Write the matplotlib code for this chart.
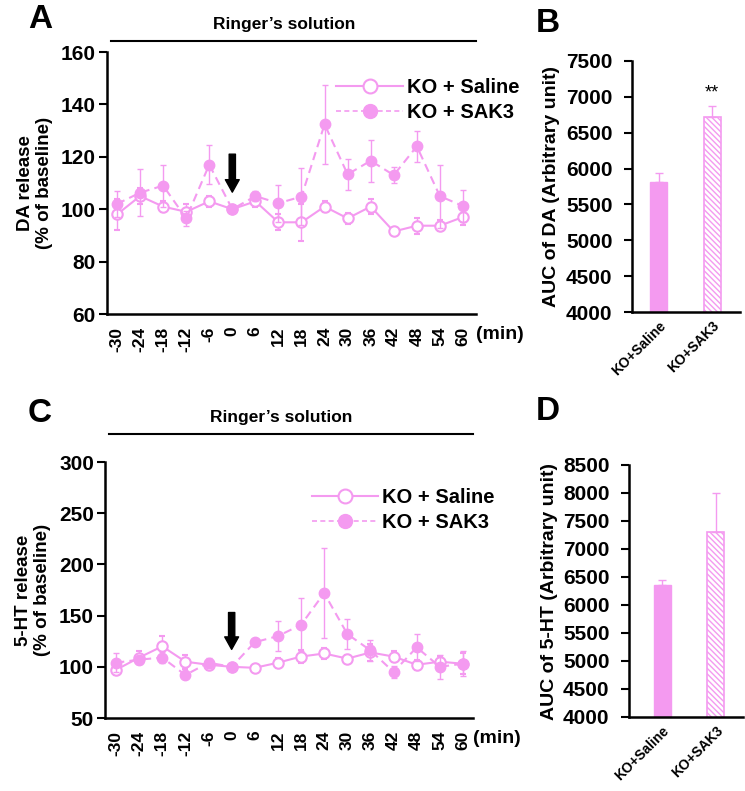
import numpy as np
import matplotlib
matplotlib.use("Agg")
import matplotlib.pyplot as plt
from matplotlib.lines import Line2D

plt.rcParams['font.family'] = ['Liberation Sans', 'DejaVu Sans']
plt.rcParams['font.weight'] = 'bold'
plt.rcParams['axes.labelweight'] = 'bold'

pink = '#F49AF0'

# time points (min)
minutes = [-30, -24, -18, -12, -6, 0, 6, 12, 18, 24, 30, 36, 42, 48, 54, 60]

# panel A: DA release (% of baseline)
da_saline = [98, 105, 101, 99, 103, 100, 103, 95, 95, 101, 96.5, 101, 91.5, 93.7, 93.7, 97]
da_saline_err = [6, 3, 2, 3, 2, 0, 2, 3, 7, 2, 2, 3, 1, 3, 2, 3]
da_sak3 = [102, 106.3, 109, 96.5, 117, 100, 105, 102.3, 104.8, 132.4, 113.3, 118.5, 113, 124, 105, 101.2]
da_sak3_err = [5, 9, 8, 3, 7.5, 0, 2, 7, 11, 15, 6, 8, 3, 6, 12, 6]

# panel C: 5-HT release (% of baseline)
ht_saline = [97, 109, 120, 105, 102, 100, 99, 104, 110, 113, 108, 114, 110, 102, 105, 103]
ht_saline_err = [5, 6, 10, 7, 5, 0, 2, 5, 6, 5, 4, 8, 5, 5, 6, 10]
ht_sak3 = [104, 107, 109, 92, 104, 100, 124, 130, 141, 172, 132, 116, 95, 119, 100, 103]
ht_sak3_err = [9, 4, 5, 3, 5, 0, 2, 15, 26, 44, 15, 10, 6, 13, 12, 12]

# AUC bars
groups = ['KO+Saline', 'KO+SAK3']
auc_da = [5819, 6724]
auc_da_err = [120, 150]
auc_ht = [6354, 7308]
auc_ht_err = [100, 700]

legend_labels = ['KO + Saline', 'KO + SAK3']

fig = plt.figure(figsize=(7.45, 7.91), dpi=100)
W, H = 745, 791


def box(l, t, r, b):
    return [l / W, 1 - b / H, (r - l) / W, (b - t) / H]


def time_panel(ax, sal, sal_err, sak, sak_err, ylim, yticks, xlim, ylabel, arrow, line_y, text_y, leg_anchor):
    ax.errorbar(minutes, sal, yerr=sal_err, color=pink, lw=1.5, marker='o', ms=7.5,
                mfc='white', mec=pink, mew=1.5, ecolor=pink, elinewidth=1, capsize=2.5, zorder=3)
    ax.errorbar(minutes, sak, yerr=sak_err, color=pink, lw=1.5, ls='--', dashes=(4, 2.5), marker='o', ms=7.5,
                mfc=pink, mec=pink, ecolor=pink, elinewidth=1, capsize=2.5, zorder=4)
    ax.set_xlim(*xlim)
    ax.set_ylim(*ylim)
    ax.set_yticks(yticks)
    ax.set_xticks(minutes)
    ax.set_xticklabels([str(m) for m in minutes], rotation=90, fontsize=12.5)
    ax.tick_params(axis='x', length=0, pad=9)
    ax.tick_params(axis='y', length=6, width=1.5, labelsize=15, pad=2)
    for s in ['top', 'right']:
        ax.spines[s].set_visible(False)
    for s in ['left', 'bottom']:
        ax.spines[s].set_linewidth(1.8)
    ax.set_ylabel(ylabel, fontsize=13.5, linespacing=1.1, labelpad=6)
    ax.annotate('', xy=(0, arrow[1]), xytext=(0, arrow[0]),
                arrowprops=dict(facecolor='black', edgecolor='black', width=4.5, headwidth=10, headlength=9))
    ax.plot([0.01, 1.0], [line_y, line_y], transform=ax.transAxes, color='black', lw=1.5, clip_on=False)
    ax.text(0.48, text_y, "Ringer\u2019s solution", transform=ax.transAxes, ha='center', va='center', fontsize=12.5)
    ax.text(1.0, -0.08, '(min)', transform=ax.transAxes, ha='left', va='center', fontsize=14)
    handles = [
        Line2D([], [], color=pink, lw=1.5, marker='o', ms=10, mfc='white', mec=pink, mew=1.5),
        Line2D([], [], color=pink, lw=1.2, ls='--', dashes=(3, 2), marker='o', ms=10, mfc=pink, mec=pink),
    ]
    ax.legend(handles, legend_labels, loc='upper left', bbox_to_anchor=leg_anchor, frameon=False,
              fontsize=14.5, handlelength=3.3, handletextpad=0.2, labelspacing=0.3, borderaxespad=0)


def bar_panel(ax, vals, errs, ylim, yticks, xlim, ylabel, star):
    x = np.arange(len(groups))
    ax.bar(x[0], vals[0], width=0.32, color=pink, edgecolor=pink)
    ax.bar(x[1], vals[1], width=0.32, color='white', edgecolor=pink, hatch='\\\\\\\\\\\\', lw=1.2)
    ax.errorbar(x, vals, yerr=[[0, 0], errs], fmt='none', ecolor=pink, elinewidth=1, capsize=3)
    ax.set_xlim(*xlim)
    ax.set_ylim(*ylim)
    ax.set_yticks(yticks)
    ax.set_xticks(x)
    ax.set_xticklabels(groups, rotation=45, ha='right', rotation_mode='anchor', fontsize=10)
    ax.tick_params(axis='x', length=0, pad=5)
    ax.tick_params(axis='y', length=6, width=1.5, labelsize=15, pad=8)
    for s in ['top', 'right']:
        ax.spines[s].set_visible(False)
    for s in ['left', 'bottom']:
        ax.spines[s].set_linewidth(1.8)
    ax.set_ylabel(ylabel, fontsize=14, labelpad=4)
    if star:
        ax.text(x[1], vals[1] + errs[1] + 60, star, ha='center', va='bottom', fontsize=13, fontweight='normal')


axA = fig.add_axes(box(107, 52, 476, 314))
axB = fig.add_axes(box(632, 61, 740, 312))
axC = fig.add_axes(box(105, 462, 473, 718))
axD = fig.add_axes(box(629, 465, 743, 717))

time_panel(axA, da_saline, da_saline_err, da_sak3, da_sak3_err, (60, 160), np.arange(60, 161, 20),
           (-32.6, 63.4), 'DA release\n(% of baseline)', (121, 106.5), 1.042, 1.105, (0.6, 0.93))
time_panel(axC, ht_saline, ht_saline_err, ht_sak3, ht_sak3_err, (50, 300), np.arange(50, 301, 50),
           (-32.85, 62.6), '5-HT release\n(% of baseline)', (153, 117), 1.109, 1.172, (0.54, 0.93))

bar_panel(axB, auc_da, auc_da_err, (4000, 7500), np.arange(4000, 7501, 500), (-0.5, 1.52),
          'AUC of DA (Arbitrary unit)', '**')
bar_panel(axD, auc_ht, auc_ht_err, (4000, 8500), np.arange(4000, 8501, 500), (-0.62, 1.51),
          'AUC of 5-HT (Arbitrary unit)', None)

fig.text(28 / W, 1 - 20 / H, 'A', fontsize=24, ha='left', va='center')
fig.text(536 / W, 1 - 24 / H, 'B', fontsize=24, ha='left', va='center')
fig.text(28 / W, 1 - 414 / H, 'C', fontsize=24, ha='left', va='center')
fig.text(536 / W, 1 - 412 / H, 'D', fontsize=24, ha='left', va='center')

fig.savefig('out.png', dpi=100)
